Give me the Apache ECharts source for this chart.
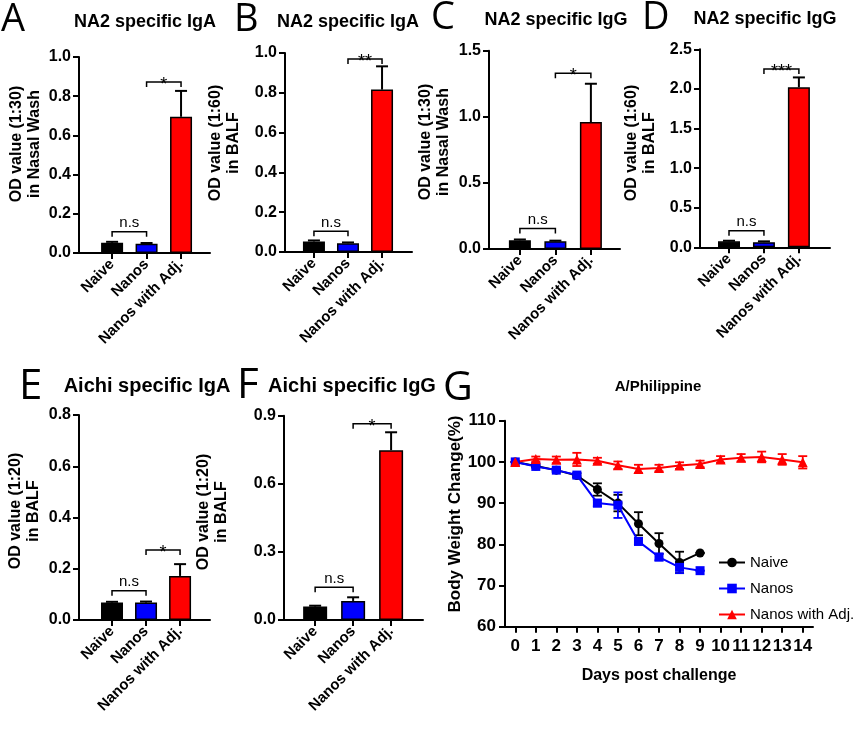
<!DOCTYPE html>
<html><head><meta charset="utf-8">
<script src="https://cdn.jsdelivr.net/npm/echarts@6/dist/echarts.min.js"></script>
<style>html,body{margin:0;padding:0;background:#fff}#c{width:866px;height:734px}</style>
</head><body><div id="c"></div>
<script>
// ---------- data ----------
const categories = ['Naive', 'Nanos', 'Nanos with Adj.'];
const barColors = ['#000000', '#0000ff', '#ff0000'];

const aMeans = [0.052, 0.047, 0.695];
const aErrs = [0.005, 0.004, 0.132];
const aSig = [[0, 1, 0.109], [1, 2, 0.872]];
const aSigText = ['n.s', '*'];

const bMeans = [0.053, 0.044, 0.816];
const bErrs = [0.005, 0.004, 0.117];
const bSig = [[0, 1, 0.104], [1, 2, 0.97]];
const bSigText = ['n.s', '**'];

const cMeans = [0.066, 0.058, 0.96];
const cErrs = [0.006, 0.005, 0.29];
const cSig = [[0, 1, 0.156], [1, 2, 1.33]];
const cSigText = ['n.s', '*'];

const dMeans = [0.075, 0.065, 2.02];
const dErrs = [0.008, 0.01, 0.125];
const dSig = [[0, 1, 0.21], [1, 2, 2.25]];
const dSigText = ['n.s', '***'];

const eMeans = [0.068, 0.068, 0.172];
const eErrs = [0.003, 0.004, 0.046];
const eSig = [[0, 1, 0.114], [1, 2, 0.273]];
const eSigText = ['n.s', '*'];

const fMeans = [0.059, 0.084, 0.748];
const fErrs = [0.004, 0.016, 0.079];
const fSig = [[0, 1, 0.144], [1, 2, 0.865]];
const fSigText = ['n.s', '*'];

const days = ['0','1','2','3','4','5','6','7','8','9','10','11','12','13','14'];
const naiveMean = [100, 99.0, 98.0, 96.7, 93.3, 90.0, 85.0, 80.2, 75.6, 77.9];
const naiveErr  = [0, 0.3, 0.4, 0.5, 1.5, 2.0, 2.8, 2.5, 2.6, 0];
const nanosMean = [100, 98.9, 98.0, 96.8, 90.0, 89.5, 80.7, 76.9, 74.4, 73.6];
const nanosErr  = [0, 0.3, 0.4, 0.5, 0.8, 3.1, 0.8, 0.8, 1.4, 0];
const adjMean = [100, 100.7, 100.5, 100.6, 100.3, 99.2, 98.3, 98.5, 99.1, 99.5, 100.6, 101.0, 101.2, 100.6, 99.9];
const adjErr  = [0, 0.6, 0.8, 1.6, 0.7, 0.9, 1.0, 0.8, 0.8, 0.8, 0.8, 0.9, 1.3, 1.3, 1.5];

// ---------- layout ----------
const FONT = 'Arial, "Liberation Sans", Helvetica, sans-serif';
const panels = [
  {means: aMeans, errs: aErrs, sig: aSig, sigText: aSigText, yMax: 1.0, yInt: 0.2, dec: 1,
   left: 79, right: 210, top: 57, bottom: 253, xMin: -0.96, xMax: 2.84, bw: 22},
  {means: bMeans, errs: bErrs, sig: bSig, sigText: bSigText, yMax: 1.0, yInt: 0.2, dec: 1,
   left: 285, right: 412, top: 53, bottom: 252, xMin: -0.85, xMax: 2.88, bw: 22},
  {means: cMeans, errs: cErrs, sig: cSig, sigText: cSigText, yMax: 1.5, yInt: 0.5, dec: 1,
   left: 489, right: 620, top: 50.7, bottom: 249, xMin: -0.87, xMax: 2.82, bw: 22},
  {means: dMeans, errs: dErrs, sig: dSig, sigText: dSigText, yMax: 2.5, yInt: 0.5, dec: 1,
   left: 700, right: 830, top: 49.3, bottom: 247.3, xMin: -0.83, xMax: 2.89, bw: 22},
  {means: eMeans, errs: eErrs, sig: eSig, sigText: eSigText, yMax: 0.8, yInt: 0.2, dec: 1,
   left: 79, right: 210, top: 415, bottom: 620, xMin: -0.97, xMax: 2.88, bw: 22},
  {means: fMeans, errs: fErrs, sig: fSig, sigText: fSigText, yMax: 0.9, yInt: 0.3, dec: 1,
   left: 284, right: 423, top: 415.7, bottom: 620, xMin: -0.82, xMax: 2.84, bw: 24}
];

const grids = [], xAxes = [], yAxes = [], series = [];
const axisLineStyle = {color: '#000', width: 2};

panels.forEach((p, i) => {
  grids.push({left: p.left, top: p.top, width: p.right - p.left, height: p.bottom - p.top, containLabel: false});
  xAxes.push({
    gridIndex: i, type: 'value', min: p.xMin, max: p.xMax,
    axisLine: {show: true, onZero: false, lineStyle: axisLineStyle},
    axisTick: {show: true, customValues: [0, 1, 2], length: 6, lineStyle: {color: '#000', width: 2}},
    axisLabel: {customValues: [0, 1, 2], rotate: 45, margin: 9, color: '#000', fontWeight: 'bold',
      fontSize: 15, fontFamily: FONT, formatter: v => categories[Math.round(v)] || ''},
    splitLine: {show: false}
  });
  yAxes.push({
    gridIndex: i, type: 'value', min: 0, max: p.yMax, interval: p.yInt,
    axisLine: {show: true, onZero: false, lineStyle: axisLineStyle},
    axisTick: {show: true, length: 6, lineStyle: {color: '#000', width: 2}},
    axisLabel: {margin: 8, color: '#000', fontWeight: 'bold', fontSize: 16, fontFamily: FONT,
      formatter: v => v.toFixed(p.dec)},
    splitLine: {show: false}
  });
  series.push({
    type: 'bar', xAxisIndex: i, yAxisIndex: i, barWidth: p.bw,
    data: p.means.map((m, j) => ({value: [j, m], itemStyle: {color: barColors[j]}})),
    itemStyle: {borderColor: '#000', borderWidth: 1.5}
  });
  series.push({
    type: 'custom', xAxisIndex: i, yAxisIndex: i, z: 5,
    data: p.means.map((m, j) => [j, m, p.errs[j]]),
    renderItem: (params, api) => {
      const x = api.value(0), m = api.value(1), e = api.value(2);
      const p0 = api.coord([x, m]), p1 = api.coord([x, m + e]);
      const cap = 12;
      return {type: 'group', children: [
        {type: 'line', shape: {x1: p0[0], y1: p0[1], x2: p1[0], y2: p1[1]}, style: {stroke: '#000', lineWidth: 2}},
        {type: 'line', shape: {x1: p1[0] - cap / 2, y1: p1[1], x2: p1[0] + cap / 2, y2: p1[1]}, style: {stroke: '#000', lineWidth: 2}}
      ]};
    }
  });
  series.push({
    type: 'custom', xAxisIndex: i, yAxisIndex: i, z: 5,
    encode: {x: [0, 1], y: 2},
    data: p.sig,
    renderItem: (params, api) => {
      const a = api.coord([api.value(0), api.value(2)]);
      const b = api.coord([api.value(1), api.value(2)]);
      const txt = p.sigText[params.dataIndex];
      const isStar = txt.indexOf('*') >= 0;
      return {type: 'group', children: [
        {type: 'polyline', shape: {points: [[a[0], a[1] + 5], [a[0], a[1]], [b[0], b[1]], [b[0], b[1] + 5]]},
          style: {stroke: '#000', lineWidth: 1.5, fill: null}},
        {type: 'text', x: (a[0] + b[0]) / 2, y: isStar ? a[1] + 3 : a[1] - 1,
          style: {text: txt, textAlign: 'center', textVerticalAlign: isStar ? 'middle' : 'bottom',
            fontSize: isStar ? 18 : 15, fontFamily: FONT, fill: '#000'}}
      ]};
    }
  });
});

// Panel G line chart
const gi = panels.length;
grids.push({left: 505, top: 420.7, width: 308, height: 206});
xAxes.push({
  gridIndex: gi, type: 'category', data: days, boundaryGap: true,
  axisLine: {show: true, onZero: false, lineStyle: axisLineStyle},
  axisTick: {show: true, alignWithLabel: true, length: 6, lineStyle: {color: '#000', width: 2}},
  axisLabel: {interval: 0, margin: 11, color: '#000', fontWeight: 'bold', fontSize: 17, fontFamily: FONT},
  name: 'Days post challenge', nameLocation: 'middle', nameGap: 41,
  nameTextStyle: {color: '#000', fontWeight: 'bold', fontSize: 16, fontFamily: FONT},
  splitLine: {show: false}
});
yAxes.push({
  gridIndex: gi, type: 'value', min: 60, max: 110, interval: 10,
  axisLine: {show: true, onZero: false, lineStyle: axisLineStyle},
  axisTick: {show: true, length: 6, lineStyle: {color: '#000', width: 2}},
  axisLabel: {margin: 9, color: '#000', fontWeight: 'bold', fontSize: 17, fontFamily: FONT},
  splitLine: {show: false}
});

function errSeries(means, errs, color) {
  return {
    type: 'custom', xAxisIndex: gi, yAxisIndex: gi, z: 2,
    data: means.map((m, j) => [j, m, errs[j]]),
    renderItem: (params, api) => {
      const x = api.value(0), m = api.value(1), e = api.value(2);
      const lo = api.coord([x, m - e]), hi = api.coord([x, m + e]);
      const cap = 9;
      return {type: 'group', children: [
        {type: 'line', shape: {x1: lo[0], y1: lo[1], x2: hi[0], y2: hi[1]}, style: {stroke: color, lineWidth: 1.8}},
        {type: 'line', shape: {x1: hi[0] - cap / 2, y1: hi[1], x2: hi[0] + cap / 2, y2: hi[1]}, style: {stroke: color, lineWidth: 1.8}},
        {type: 'line', shape: {x1: lo[0] - cap / 2, y1: lo[1], x2: lo[0] + cap / 2, y2: lo[1]}, style: {stroke: color, lineWidth: 1.8}}
      ]};
    }
  };
}
series.push(errSeries(naiveMean, naiveErr, '#000000'));
series.push({name: 'Naive', type: 'line', xAxisIndex: gi, yAxisIndex: gi, data: naiveMean, z: 3,
  symbol: 'circle', symbolSize: 9, itemStyle: {color: '#000000'}, lineStyle: {color: '#000000', width: 2}});
series.push(errSeries(nanosMean, nanosErr, '#0000ff'));
series.push({name: 'Nanos', type: 'line', xAxisIndex: gi, yAxisIndex: gi, data: nanosMean, z: 3,
  symbol: 'rect', symbolSize: 9, itemStyle: {color: '#0000ff'}, lineStyle: {color: '#0000ff', width: 2}});
series.push(errSeries(adjMean, adjErr, '#ff0000'));
series.push({name: 'Nanos with Adj.', type: 'line', xAxisIndex: gi, yAxisIndex: gi, data: adjMean, z: 3,
  symbol: 'triangle', symbolSize: 10, itemStyle: {color: '#ff0000'}, lineStyle: {color: '#ff0000', width: 2}});

// ---------- texts ----------
const letters = [['A', 1, 20, 38], ['B', 234, 20, 38], ['C', 431, 18, 38], ['D', 642, 18, 38],
                 ['E', 19, 387, 42], ['F', 237, 386, 42], ['G', 443, 388, 41]];
const titles = [['NA2 specific IgA', 145, 22, 18], ['NA2 specific IgA', 348, 22, 18],
                ['NA2 specific IgG', 556, 20, 18], ['NA2 specific IgG', 765, 19, 18],
                ['Aichi specific IgA', 147, 386, 20], ['Aichi specific IgG', 352, 386, 20],
                ['A/Philippine', 658, 387, 15]];
const yNames = [['OD value (1:30)\nin Nasal Wash', 26, 144], ['OD value (1:60)\nin BALF', 225, 143],
                ['OD value (1:30)\nin Nasal Wash', 435, 142], ['OD value (1:60)\nin BALF', 641, 143],
                ['OD value (1:20)\nin BALF', 25, 511], ['OD value (1:20)\nin BALF', 213, 512]];

const graphic = [];
letters.forEach(l => graphic.push({type: 'text', x: l[1], y: l[2], style: {text: l[0], fontSize: l[3],
  fontFamily: '"Open Sans", "Noto Sans", sans-serif', fontWeight: 'normal', fill: '#000', textAlign: 'left', textVerticalAlign: 'middle'}}));
titles.forEach(t => graphic.push({type: 'text', x: t[1], y: t[2], style: {text: t[0], fontSize: t[3],
  fontFamily: FONT, fontWeight: 'bold', fill: '#000', textAlign: 'center', textVerticalAlign: 'middle'}}));
yNames.forEach(n => graphic.push({type: 'text', x: n[1], y: n[2], rotation: Math.PI / 2, style: {text: n[0],
  fontSize: 16, lineHeight: 18, fontWeight: 'bold', fontFamily: FONT, fill: '#000', textAlign: 'center', textVerticalAlign: 'middle'}}));
graphic.push({type: 'text', x: 455, y: 514, rotation: Math.PI / 2, style: {text: 'Body Weight Change(%)',
  fontSize: 17, fontFamily: FONT, fontWeight: 'bold', fill: '#000', textAlign: 'center', textVerticalAlign: 'middle'}});

const chart = echarts.init(document.getElementById('c'), null, {renderer: 'canvas'});
chart.setOption({
  animation: false,
  backgroundColor: '#fff',
  textStyle: {fontFamily: FONT},
  grid: grids, xAxis: xAxes, yAxis: yAxes, series: series,
  legend: {orient: 'vertical', left: 713, top: 550, itemWidth: 26, itemHeight: 12, itemGap: 11,
    data: ['Naive', 'Nanos', 'Nanos with Adj.'],
    textStyle: {fontSize: 15, color: '#000', fontFamily: FONT}},
  graphic: graphic
});
</script></body></html>
